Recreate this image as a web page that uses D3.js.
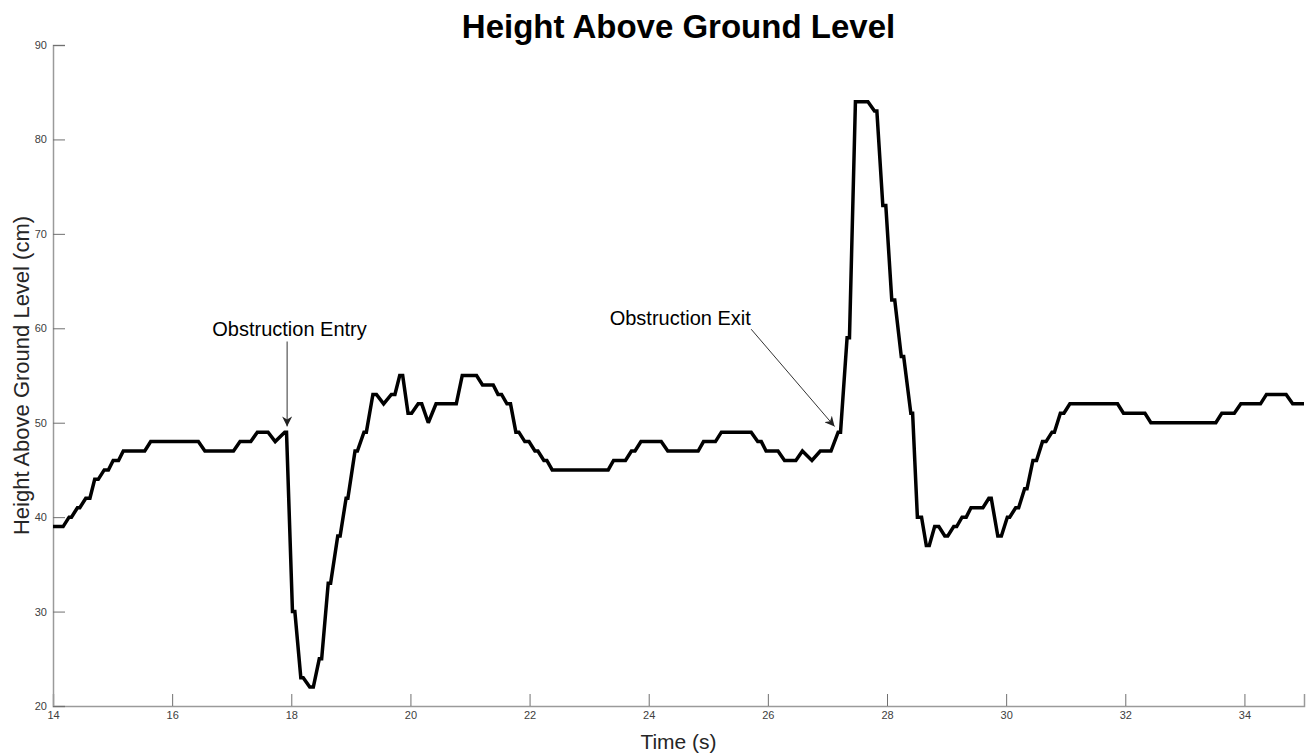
<!DOCTYPE html>
<meta charset="utf-8">
<style>
  body { margin: 0; background: #fff; }
  svg text { font-family: "Liberation Sans", Arial, sans-serif; }
  .tick-label { font-size: 11px; fill: #404040; }
  .title { font-size: 33px; font-weight: bold; fill: #000; text-anchor: middle; }
  .axis-title { font-size: 21px; fill: #262626; text-anchor: middle; }
  .note { font-size: 20px; fill: #000; text-anchor: middle; }
</style>
<script src="https://cdn.jsdelivr.net/npm/d3@7"></script>
<body>
<script>

  var w = 1311;
  var h = 756;
  var margin = {top: 45, right: 7, bottom: 50, left: 53};

  // vertices of the trace: time (s) and height (cm)
  var times = [14.00, 14.17, 14.27, 14.31, 14.41, 14.45, 14.55, 14.62, 14.70, 14.76,
               14.86, 14.93, 15.01, 15.10, 15.18, 15.54, 15.64, 16.44, 16.55, 17.03,
               17.14, 17.32, 17.43, 17.61, 17.73, 17.89, 17.92, 18.02, 18.06, 18.16,
               18.20, 18.31, 18.37, 18.47, 18.51, 18.62, 18.66, 18.78, 18.82, 18.92,
               18.95, 19.07, 19.11, 19.22, 19.26, 19.37, 19.43, 19.55, 19.68, 19.74,
               19.82, 19.87, 19.96, 20.02, 20.13, 20.19, 20.30, 20.43, 20.77, 20.87,
               21.11, 21.21, 21.39, 21.47, 21.53, 21.62, 21.68, 21.77, 21.82, 21.92,
               21.99, 22.09, 22.14, 22.24, 22.29, 22.38, 23.32, 23.41, 23.61, 23.71,
               23.77, 23.87, 24.21, 24.32, 24.83, 24.92, 25.12, 25.22, 25.72, 25.83,
               25.89, 25.97, 26.17, 26.28, 26.47, 26.58, 26.74, 26.88, 27.06, 27.18,
               27.22, 27.33, 27.37, 27.47, 27.68, 27.79, 27.83, 27.93, 27.98, 28.08,
               28.13, 28.24, 28.28, 28.40, 28.43, 28.51, 28.58, 28.66, 28.71, 28.80,
               28.87, 28.97, 29.02, 29.12, 29.17, 29.26, 29.33, 29.41, 29.61, 29.71,
               29.75, 29.86, 29.92, 30.02, 30.06, 30.16, 30.21, 30.31, 30.35, 30.45,
               30.51, 30.61, 30.67, 30.77, 30.81, 30.91, 30.97, 31.07, 31.87, 31.97,
               32.33, 32.43, 33.52, 33.62, 33.83, 33.94, 34.27, 34.37, 34.70, 34.81,
               35.00];
  var heights = [39, 39, 40, 40, 41, 41, 42, 42, 44, 44,
                 45, 45, 46, 46, 47, 47, 48, 48, 47, 47,
                 48, 48, 49, 49, 48, 49, 49, 30, 30, 23,
                 23, 22, 22, 25, 25, 33, 33, 38, 38, 42,
                 42, 47, 47, 49, 49, 53, 53, 52, 53, 53,
                 55, 55, 51, 51, 52, 52, 50, 52, 52, 55,
                 55, 54, 54, 53, 53, 52, 52, 49, 49, 48,
                 48, 47, 47, 46, 46, 45, 45, 46, 46, 47,
                 47, 48, 48, 47, 47, 48, 48, 49, 49, 48,
                 48, 47, 47, 46, 46, 47, 46, 47, 47, 49,
                 49, 59, 59, 84, 84, 83, 83, 73, 73, 63,
                 63, 57, 57, 51, 51, 40, 40, 37, 37, 39,
                 39, 38, 38, 39, 39, 40, 40, 41, 41, 42,
                 42, 38, 38, 40, 40, 41, 41, 43, 43, 46,
                 46, 48, 48, 49, 49, 51, 51, 52, 52, 51,
                 51, 50, 50, 51, 51, 52, 52, 53, 53, 52,
                 52];

  var xTicks = [14, 16, 18, 20, 22, 24, 26, 28, 30, 32, 34];
  var yTicks = [20, 30, 40, 50, 60, 70, 80, 90];

  // annotation text and arrow (start -> tip), in data units
  var notes = [
    {label: "Obstruction Entry", tx: 17.97, ty: 59.2, x1: 17.93, y1: 58.6, x2: 17.93, y2: 49.6},
    {label: "Obstruction Exit",  tx: 24.53, ty: 60.35, x1: 25.72, y1: 59.9, x2: 27.12, y2: 49.6}
  ];

  var data = times.map(function (t, i) { return {t: t, v: heights[i]}; });

  var svg = d3.select("body").append("svg")
              .attr("width", w)
              .attr("height", h);

  var x = d3.scaleLinear().domain([14, 35]).range([margin.left, w - margin.right]);
  var y = d3.scaleLinear().domain([20, 90]).range([h - margin.bottom, margin.top]);

  var defs = svg.append("defs");
  defs.append("marker")
      .attr("id", "head")
      .attr("viewBox", "0 0 10 10")
      .attr("refX", 10)
      .attr("refY", 5)
      .attr("markerWidth", 10)
      .attr("markerHeight", 10)
      .attr("markerUnits", "userSpaceOnUse")
      .attr("orient", "auto")
    .append("path")
      .attr("d", "M0,0 L10,5 L0,10 L3,5 Z")
      .attr("fill", "#222");

  // x axis (ticks point inward)
  var xAxis = d3.axisBottom(x).tickValues(xTicks).tickSize(-12).tickPadding(5).tickFormat(d3.format("d"));
  var gx = svg.append("g")
      .attr("transform", "translate(0," + (h - margin.bottom) + ")")
      .call(xAxis);

  var yAxis = d3.axisLeft(y).tickValues(yTicks).tickSize(-12).tickPadding(6).tickFormat(d3.format("d"));
  var gy = svg.append("g")
      .attr("transform", "translate(" + margin.left + ",0)")
      .call(yAxis);

  [gx, gy].forEach(function (g) {
    g.select(".domain").attr("stroke", "#9a9a9a").attr("stroke-width", 1.5);
    g.selectAll(".tick line").attr("stroke", "#707070").attr("stroke-width", 1);
    g.selectAll(".tick text").attr("class", "tick-label").style("font-size", "11px").attr("fill", "#404040");
  });

  var line = d3.line()
      .x(function (d) { return x(d.t); })
      .y(function (d) { return y(d.v); });

  svg.append("path")
      .datum(data)
      .attr("d", line)
      .attr("fill", "none")
      .attr("stroke", "#000")
      .attr("stroke-width", 3.5)
      .attr("stroke-linejoin", "miter")
      .attr("stroke-miterlimit", 2);

  // annotations
  notes.forEach(function (n) {
    svg.append("line")
        .attr("x1", x(n.x1)).attr("y1", y(n.y1))
        .attr("x2", x(n.x2)).attr("y2", y(n.y2))
        .attr("stroke", "#333")
        .attr("stroke-width", 1)
        .attr("marker-end", "url(#head)");
    svg.append("text")
        .attr("class", "note")
        .attr("x", x(n.tx))
        .attr("y", y(n.ty))
        .text(n.label);
  });

  svg.append("text")
      .attr("class", "title")
      .attr("x", (margin.left + w - margin.right) / 2)
      .attr("y", 38)
      .text("Height Above Ground Level");

  svg.append("text")
      .attr("class", "axis-title")
      .attr("x", (margin.left + w - margin.right) / 2)
      .attr("y", 749)
      .text("Time (s)");

  svg.append("text")
      .attr("class", "axis-title")
      .style("font-size", "22px")
      .attr("transform", "translate(29," + ((margin.top + h - margin.bottom) / 2) + ") rotate(-90)")
      .text("Height Above Ground Level (cm)");

</script>
</body>
